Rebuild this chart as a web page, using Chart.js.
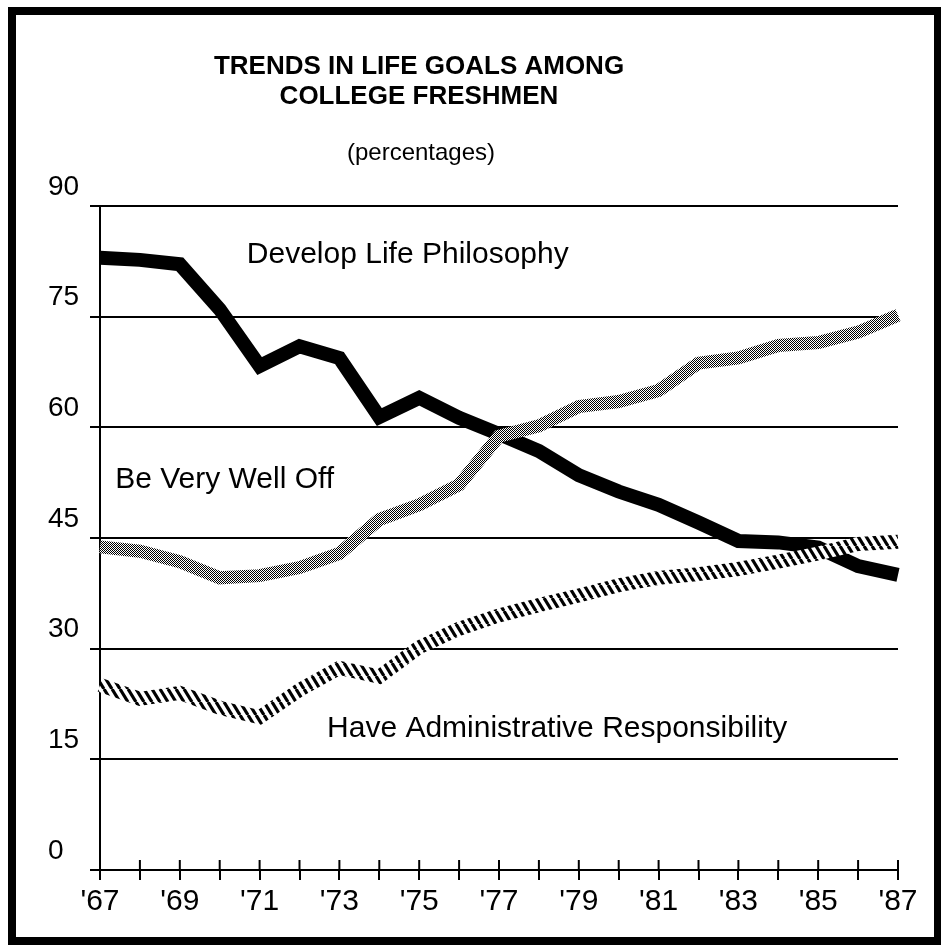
<!DOCTYPE html>
<html>
<head>
<meta charset="utf-8">
<title>Trends in Life Goals Among College Freshmen</title>
<script src="https://cdn.jsdelivr.net/npm/chart.js@4.4.0/dist/chart.umd.min.js"></script>
<style>
  html, body { margin: 0; padding: 0; background: #fff; }
  canvas { display: block; }
</style>
</head>
<body>
<canvas id="chart" width="941" height="949"></canvas>
<script>
// values (percentages)
const years = ["'67", "'68", "'69", "'70", "'71", "'72", "'73", "'74", "'75", "'76", "'77",
               "'78", "'79", "'80", "'81", "'82", "'83", "'84", "'85", "'86", "'87"];
const lifePhilosophy = [83.0, 82.7, 82.1, 76.0, 68.3, 71.0, 69.4, 61.4, 64.0, 61.3, 59.1,
                        56.8, 53.5, 51.3, 49.5, 47.1, 44.6, 44.4, 43.7, 41.2, 40.0];
const veryWellOff = [43.8, 43.2, 41.8, 39.6, 39.9, 41.0, 42.9, 47.5, 49.5, 52.2, 58.8,
                     60.2, 62.8, 63.5, 65.0, 68.7, 69.4, 71.1, 71.5, 72.9, 75.2];
const adminResp = [25.1, 23.2, 24.0, 22.0, 20.7, 24.4, 27.4, 26.2, 30.2, 32.7, 34.5,
                   35.9, 37.2, 38.6, 39.6, 40.1, 40.8, 41.8, 42.9, 44.2, 44.5];
const yTicks = [0, 15, 30, 45, 60, 75, 90];

const titleLines = ['TRENDS IN LIFE GOALS AMONG', 'COLLEGE FRESHMEN'];
const subtitle = '(percentages)';

// in-chart series labels, placed in data coordinates (year index, percent)
const seriesNotes = [
  { text: 'Develop Life Philosophy', at: 3.68, value: 82.3 },
  { text: 'Be Very Well Off', at: 0.38, value: 51.8 },
  { text: 'Have Administrative Responsibility', at: 5.69, value: 18.0 }
];

const FONT = "'Liberation Sans', Arial, Helvetica, sans-serif";

function makeStipple() {
  const c = document.createElement('canvas');
  c.width = 4; c.height = 4;
  const g = c.getContext('2d');
  g.fillStyle = '#fff';
  g.fillRect(0, 0, 4, 4);
  g.fillStyle = '#000';
  for (let x = 0; x < 4; x++) {
    for (let y = 0; y < 4; y++) {
      if ((x + y) % 2 === 0) g.fillRect(x, y, 1, 1);
    }
  }
  return g.createPattern(c, 'repeat');
}

function makeHatch() {
  const c = document.createElement('canvas');
  c.width = 8; c.height = 13;
  const g = c.getContext('2d');
  g.fillStyle = '#fff';
  g.fillRect(0, 0, 8, 13);
  g.strokeStyle = '#000';
  g.lineWidth = 3.2;
  for (const k of [-8, 0, 8]) {
    g.beginPath();
    g.moveTo(k, 0);
    g.lineTo(k + 8, 13);
    g.stroke();
  }
  return g.createPattern(c, 'repeat');
}

const framePlugin = {
  id: 'frameAndTitle',
  beforeDraw(chart) {
    const ctx = chart.ctx;
    ctx.save();
    ctx.fillStyle = '#fff';
    ctx.fillRect(0, 0, chart.width, chart.height);
    ctx.strokeStyle = '#000';
    ctx.lineWidth = 8;
    ctx.strokeRect(12, 11, 926, 930);

    ctx.fillStyle = '#000';
    ctx.textAlign = 'center';
    ctx.textBaseline = 'alphabetic';
    ctx.font = 'bold 26px ' + FONT;
    ctx.fillText(titleLines[0], 419, 74);
    ctx.fillText(titleLines[1], 419, 104);
    ctx.font = '24px ' + FONT;
    ctx.fillText(subtitle, 421, 160);
    ctx.restore();
  },
  afterDraw(chart) {
    // upper half of the cross-shaped year ticks
    const ctx = chart.ctx;
    const xs = chart.scales.x;
    ctx.save();
    ctx.strokeStyle = '#000';
    ctx.lineWidth = 2;
    xs.ticks.forEach((t, i) => {
      const px = xs.getPixelForTick(i);
      ctx.beginPath();
      ctx.moveTo(px, xs.top - 10);
      ctx.lineTo(px, xs.top);
      ctx.stroke();
    });
    ctx.restore();
  },
  afterDatasetsDraw(chart) {
    const ctx = chart.ctx;
    const xs = chart.scales.x, ys = chart.scales.y;
    ctx.save();
    ctx.fillStyle = '#000';
    ctx.font = '30px ' + FONT;
    ctx.textAlign = 'left';
    ctx.textBaseline = 'alphabetic';
    seriesNotes.forEach(n => {
      ctx.fillText(n.text, xs.getPixelForValue(n.at), ys.getPixelForValue(n.value));
    });
    ctx.restore();
  }
};

const ctx = document.getElementById('chart').getContext('2d');

new Chart(ctx, {
  type: 'line',
  data: {
    labels: years,
    datasets: [
      {
        label: 'Be Very Well Off',
        data: veryWellOff,
        borderColor: makeStipple(),
        borderWidth: 13,
        pointRadius: 0,
        tension: 0
      },
      {
        label: 'Have Administrative Responsibility',
        data: adminResp,
        borderColor: makeHatch(),
        borderWidth: 14,
        pointRadius: 0,
        tension: 0
      },
      {
        label: 'Develop Life Philosophy',
        data: lifePhilosophy,
        borderColor: '#000',
        borderWidth: 14,
        pointRadius: 0,
        tension: 0
      }
    ]
  },
  options: {
    responsive: false,
    animation: false,
    layout: { padding: { left: 48, right: 43, top: 206, bottom: 29 } },
    plugins: {
      legend: { display: false },
      tooltip: { enabled: false }
    },
    scales: {
      x: {
        type: 'category',
        offset: false,
        grid: { drawOnChartArea: false, color: '#000', lineWidth: 2, tickLength: 10 },
        border: { display: true, color: '#000', width: 2 },
        ticks: {
          autoSkip: false,
          maxRotation: 0,
          minRotation: 0,
          color: '#000',
          padding: 4,
          font: { family: FONT, size: 30 },
          callback: function (value, index) {
            return index % 2 === 0 ? years[index] : '';
          }
        },
        afterFit(scale) { scale.height = 50; }
      },
      y: {
        min: 0,
        max: 90,
        grid: { color: '#000', lineWidth: 2, tickLength: 10 },
        border: { display: true, color: '#000', width: 2 },
        ticks: {
          color: '#000',
          crossAlign: 'far',
          labelOffset: -19,
          font: { family: FONT, size: 28 }
        },
        afterBuildTicks(scale) { scale.ticks = yTicks.map(v => ({ value: v })); },
        afterFit(scale) { scale.width = 52; }
      }
    }
  },
  plugins: [framePlugin]
});
</script>
</body>
</html>
